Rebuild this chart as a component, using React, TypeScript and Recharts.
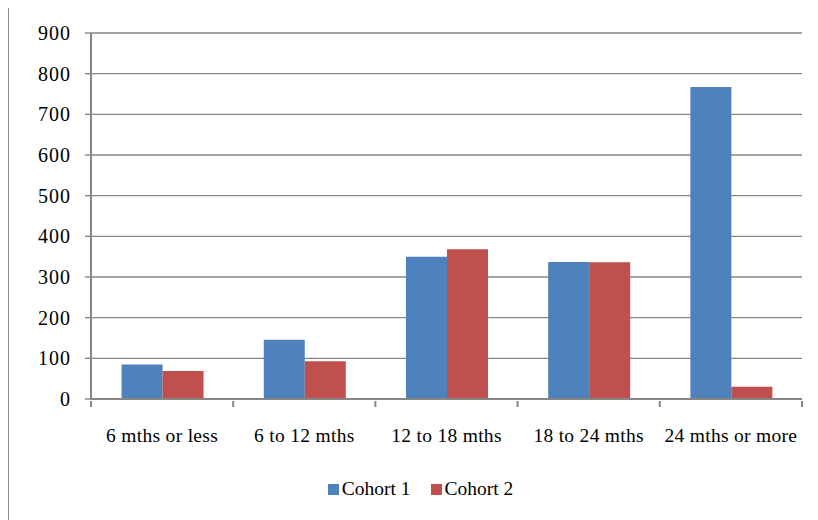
import { BarChart, Bar, XAxis, YAxis, CartesianGrid, Legend } from "recharts";

const categories = ["6 mths or less", "6 to 12 mths", "12 to 18 mths", "18 to 24 mths", "24 mths or more"];
const cohort1 = [85, 146, 350, 337, 767];
const cohort2 = [69, 93, 368, 336, 30];
const yTicks = [0, 100, 200, 300, 400, 500, 600, 700, 800, 900];

const SERIES = [
  { key: "Cohort 1", color: "#4F81BD" },
  { key: "Cohort 2", color: "#C0504D" },
];

const FONT = "'Liberation Serif', 'Times New Roman', serif";
const AXIS = "#868686";
const CHART_W = 810;
const CHART_H = 512;
const MARGIN = { top: 27, right: 17, left: 0, bottom: 17 };
const Y_W = 82;
const BAND = (CHART_W - MARGIN.left - MARGIN.right - Y_W) / categories.length;

const data = categories.map((c, i) => ({
  name: c,
  "Cohort 1": cohort1[i],
  "Cohort 2": cohort2[i],
}));

function CategoryTick(props: any) {
  const { x, y, payload, index } = props;
  const half = BAND / 2;
  return (
    <g>
      <line x1={x - half} x2={x - half} y1={y} y2={y + 6} stroke={AXIS} strokeWidth={2} />
      {index === categories.length - 1 && (
        <line x1={x + half} x2={x + half} y1={y} y2={y + 6} stroke={AXIS} strokeWidth={2} />
      )}
      <text
        x={x}
        y={y + 41}
        textAnchor="middle"
        fontFamily={FONT}
        fontSize={19.5}
        letterSpacing={0.3}
        fill="#000"
      >
        {payload.value}
      </text>
    </g>
  );
}

function ValueTick(props: any) {
  const { x, y, payload } = props;
  return (
    <text
      x={x}
      y={y}
      dy="0.35em"
      textAnchor="end"
      fontFamily={FONT}
      fontSize={20}
      letterSpacing={1}
      fill="#000"
    >
      {payload.value}
    </text>
  );
}

function LegendBox() {
  return (
    <div
      style={{
        display: "flex",
        justifyContent: "center",
        alignItems: "center",
        height: 24,
        paddingLeft: 30,
        fontFamily: FONT,
        fontSize: 19.5,
        color: "#000",
      }}
    >
      {SERIES.map((s, i) => (
        <div key={s.key} style={{ display: "flex", alignItems: "center", marginLeft: i ? 20 : 0 }}>
          <span style={{ width: 11, height: 11, background: s.color, marginRight: 3 }} />
          <span>{s.key}</span>
        </div>
      ))}
    </div>
  );
}

export default function App() {
  return (
    <div
      style={{
        position: "relative",
        top: -3,
        width: CHART_W,
        height: 520,
        border: "1px solid #8c8c8c",
        background: "#fff",
      }}
    >
      <BarChart
        width={CHART_W}
        height={CHART_H}
        data={data}
        margin={MARGIN}
        barCategoryGap="21.5%"
        barGap={0}
      >
        <CartesianGrid vertical={false} stroke={AXIS} strokeWidth={1.4} />
        <XAxis
          dataKey="name"
          height={78}
          tickSize={0}
          tickLine={false}
          axisLine={{ stroke: AXIS, strokeWidth: 2 }}
          tick={<CategoryTick />}
          interval={0}
        />
        <YAxis
          width={Y_W}
          domain={[0, 900]}
          ticks={yTicks}
          interval={0}
          tickSize={6}
          tickMargin={14}
          tickLine={{ stroke: AXIS, strokeWidth: 1.4 }}
          axisLine={{ stroke: AXIS, strokeWidth: 2 }}
          tick={<ValueTick />}
        />
        <Legend verticalAlign="bottom" content={<LegendBox />} />
        {SERIES.map((s) => (
          <Bar key={s.key} dataKey={s.key} fill={s.color} isAnimationActive={false} />
        ))}
      </BarChart>
    </div>
  );
}
